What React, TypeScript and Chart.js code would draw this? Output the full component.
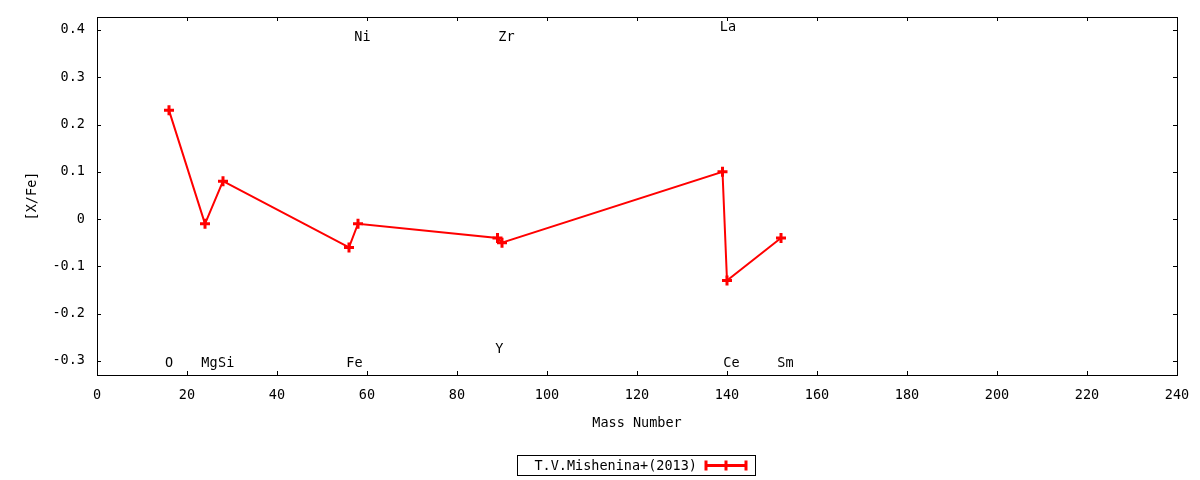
import React, { useEffect, useRef } from 'react';
import Chart from 'chart.js/auto';

// mass number vs [X/Fe]
const massNumbers: number[] = [16, 24, 28, 56, 58, 89, 90, 139, 140, 152];
const abundances: number[] = [0.23, -0.01, 0.08, -0.06, -0.01, -0.04, -0.05, 0.1, -0.13, -0.04];

// element labels drawn inside the plot
const elementNames: string[] = ['O', 'Mg', 'Si', 'Fe', 'Ni', 'Y', 'Zr', 'La', 'Ce', 'Sm'];
const elementX: number[] = [16, 25, 28.7, 57.2, 59, 89.4, 91, 140.2, 141, 153];
const elementY: number[] = [-0.305, -0.305, -0.305, -0.305, 0.385, -0.275, 0.385, 0.406, -0.305, -0.305];

const seriesName = 'T.V.Mishenina+(2013)';
const FONT = '"DejaVu Sans Mono", monospace';
const FS = 13.5;
const RED = '#ff0000';

const gnuplotLook = {
  id: 'gnuplotLook',
  afterDatasetsDraw(chart: any) {
    const { ctx, scales } = chart;
    const { x, y } = scales;
    ctx.save();
    ctx.fillStyle = '#000';
    ctx.font = `${FS}px ${FONT}`;
    ctx.textAlign = 'center';
    ctx.textBaseline = 'middle';
    elementNames.forEach((name, i) => {
      ctx.fillText(name, x.getPixelForValue(elementX[i]), y.getPixelForValue(elementY[i]));
    });
    ctx.restore();
  },
  afterDraw(chart: any) {
    const { ctx, chartArea, scales } = chart;
    const { left, right, top, bottom } = chartArea;
    const { x, y } = scales;
    const t = 4;
    ctx.save();
    ctx.strokeStyle = '#000';
    ctx.lineWidth = 1;
    ctx.strokeRect(Math.round(left) + 0.5, Math.round(top) + 0.5, Math.round(right - left), Math.round(bottom - top));
    ctx.beginPath();
    x.ticks.forEach((tk: any) => {
      const px = Math.round(x.getPixelForValue(tk.value)) + 0.5;
      ctx.moveTo(px, bottom);
      ctx.lineTo(px, bottom - t);
      ctx.moveTo(px, top);
      ctx.lineTo(px, top + t);
    });
    y.ticks.forEach((tk: any) => {
      const py = Math.round(y.getPixelForValue(tk.value)) + 0.5;
      ctx.moveTo(left, py);
      ctx.lineTo(left + t, py);
      ctx.moveTo(right, py);
      ctx.lineTo(right - t, py);
    });
    ctx.stroke();

    // legend box
    const bx = 517, by = 455, bw = 238, bh = 20;
    ctx.strokeRect(bx + 0.5, by + 0.5, bw, bh);
    ctx.fillStyle = '#000';
    ctx.font = `${FS}px ${FONT}`;
    ctx.textAlign = 'right';
    ctx.textBaseline = 'middle';
    ctx.fillText(seriesName, 697, by + bh / 2 + 1);
    const ly = by + bh / 2 + 0.5;
    ctx.strokeStyle = RED;
    ctx.lineWidth = 3;
    ctx.beginPath();
    ctx.moveTo(705, ly);
    ctx.lineTo(747, ly);
    ctx.moveTo(706, ly - 5);
    ctx.lineTo(706, ly + 5);
    ctx.moveTo(746, ly - 5);
    ctx.lineTo(746, ly + 5);
    ctx.moveTo(726, ly - 5);
    ctx.lineTo(726, ly + 5);
    ctx.stroke();
    ctx.restore();
  },
};

const App: React.FC = () => {
  const canvasRef = useRef<HTMLCanvasElement | null>(null);

  useEffect(() => {
    document.body.style.margin = '0';
    if (!canvasRef.current) return;
    const chart = new Chart(canvasRef.current, {
      type: 'scatter',
      data: {
        datasets: [
          {
            label: seriesName,
            data: massNumbers.map((m, i) => ({ x: m, y: abundances[i] })),
            showLine: true,
            borderColor: RED,
            backgroundColor: RED,
            borderWidth: 2,
            pointStyle: 'cross',
            pointRadius: 5,
            pointBorderWidth: 3,
            pointBorderColor: RED,
          },
        ],
      },
      options: {
        animation: false,
        responsive: false,
        devicePixelRatio: 1,
        layout: { padding: { top: 17, right: 23, left: 0, bottom: 0 } },
        plugins: {
          legend: { display: false },
          tooltip: { enabled: false },
        },
        scales: {
          x: {
            type: 'linear',
            min: 0,
            max: 240,
            grid: { display: false, drawTicks: false },
            border: { display: false },
            ticks: {
              stepSize: 20,
              padding: 12,
              color: '#000',
              font: { family: FONT, size: FS },
            },
            title: {
              display: true,
              text: 'Mass Number',
              color: '#000',
              font: { family: FONT, size: FS },
              padding: { top: 0, bottom: 48 },
            },
            afterFit: (s: any) => {
              s.height = 105;
              s.paddingLeft = 0;
              s.paddingRight = 0;
            },
          },
          y: {
            type: 'linear',
            min: -0.33,
            max: 0.4275,
            grid: { display: false, drawTicks: false },
            border: { display: false },
            ticks: {
              stepSize: 0.1,
              includeBounds: false,
              padding: 12,
              color: '#000',
              font: { family: FONT, size: FS },
            },
            title: {
              display: true,
              text: '[X/Fe]',
              color: '#000',
              font: { family: FONT, size: FS },
              padding: { top: 24, bottom: 0 },
            },
            afterFit: (s: any) => {
              s.width = 97;
              s.paddingTop = 0;
              s.paddingBottom = 0;
            },
          },
        },
      },
      plugins: [gnuplotLook],
    });
    return () => chart.destroy();
  }, []);

  return (
    <div style={{ width: 1200, height: 480, background: '#fff' }}>
      <canvas ref={canvasRef} width={1200} height={480} />
    </div>
  );
};

export default App;
